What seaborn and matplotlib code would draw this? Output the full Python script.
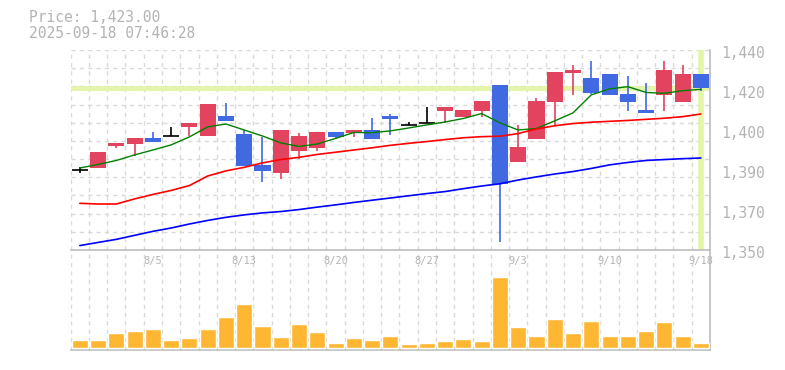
import numpy as np
import pandas as pd
import matplotlib
matplotlib.use("Agg")
import matplotlib.pyplot as plt
import matplotlib.transforms as mtransforms
import seaborn as sns

# ── data ──────────────────────────────────────────────────────
dates = ["7/30", "7/31", "8/1", "8/4", "8/5", "8/6", "8/7", "8/8", "8/12", "8/13",
         "8/14", "8/15", "8/18", "8/19", "8/20", "8/21", "8/22", "8/25", "8/26", "8/27",
         "8/28", "8/29", "9/1", "9/2", "9/3", "9/4", "9/5", "9/8", "9/9", "9/10",
         "9/11", "9/12", "9/16", "9/17", "9/18"]

opens = [1385.9, 1387.0, 1396.8, 1397.8, 1400.4, 1401.2, 1405.4, 1401.3, 1410.3, 1402.2,
         1388.3, 1384.8, 1394.7, 1395.9, 1403.1, 1402.5, 1404.0, 1410.4, 1406.3, 1407.2,
         1412.6, 1409.9, 1412.6, 1424.3, 1389.7, 1400.0, 1416.6, 1429.8, 1427.4, 1429.2,
         1420.2, 1413.0, 1419.8, 1416.7, 1429.2]
highs = [1387.2, 1394.1, 1398.0, 1400.4, 1403.1, 1405.2, 1407.2, 1415.7, 1416.2, 1404.0,
         1400.7, 1404.0, 1402.5, 1403.1, 1403.1, 1404.0, 1409.5, 1411.3, 1407.6, 1414.5,
         1414.4, 1413.0, 1417.1, 1424.3, 1406.1, 1418.3, 1430.1, 1433.3, 1435.1, 1429.2,
         1428.3, 1425.2, 1435.1, 1433.3, 1429.2]
lows = [1384.8, 1387.0, 1396.1, 1392.3, 1398.7, 1401.2, 1401.3, 1401.3, 1408.1, 1387.8,
        1380.7, 1382.1, 1391.1, 1394.7, 1399.9, 1401.0, 1400.1, 1401.9, 1406.3, 1407.2,
        1407.2, 1409.9, 1409.9, 1353.7, 1389.7, 1400.0, 1405.9, 1419.8, 1420.0, 1419.8,
        1412.7, 1411.8, 1412.7, 1416.7, 1421.7]
closes = [1385.9, 1394.1, 1398.0, 1400.4, 1398.7, 1401.2, 1407.2, 1415.7, 1408.1, 1387.8,
          1385.6, 1404.0, 1401.3, 1403.1, 1401.0, 1404.0, 1400.1, 1409.1, 1406.3, 1407.2,
          1414.4, 1413.0, 1417.1, 1379.8, 1396.4, 1417.1, 1430.1, 1431.0, 1420.7, 1419.8,
          1416.7, 1411.8, 1431.0, 1429.3, 1423.0]

ma_short = [1386.9, 1388.5, 1390.3, 1392.8, 1395.0, 1397.3, 1400.9, 1405.4, 1406.7, 1404.0,
            1401.3, 1398.2, 1396.6, 1397.7, 1400.2, 1402.9, 1402.8, 1403.6, 1404.9, 1406.3,
            1407.6, 1409.2, 1411.4, 1407.2, 1404.0, 1404.7, 1408.1, 1411.7, 1419.8, 1422.5,
            1423.5, 1420.9, 1420.5, 1421.7, 1422.3]
ma_mid = [1371.0, 1370.7, 1370.7, 1373.0, 1375.0, 1376.8, 1379.0, 1383.3, 1385.6, 1387.2,
          1389.2, 1390.7, 1391.7, 1393.0, 1394.0, 1395.0, 1396.0, 1397.1, 1398.0, 1398.8,
          1399.7, 1400.5, 1401.0, 1401.2, 1402.4, 1404.5, 1405.9, 1406.9, 1407.5, 1407.9,
          1408.3, 1408.8, 1409.3, 1410.0, 1411.2]
ma_long = [1352.0, 1353.4, 1354.8, 1356.6, 1358.4, 1359.9, 1361.7, 1363.3, 1364.7, 1365.8,
           1366.7, 1367.3, 1368.2, 1369.3, 1370.3, 1371.4, 1372.4, 1373.4, 1374.4, 1375.4,
           1376.3, 1377.6, 1378.8, 1379.8, 1381.5, 1382.9, 1384.2, 1385.3, 1386.7, 1388.3,
           1389.4, 1390.3, 1390.7, 1391.1, 1391.4]

volume = [8000, 8000, 15000, 17000, 19000, 8000, 10000, 19000, 31000, 44000,
          22000, 11000, 24000, 16000, 5000, 10000, 8000, 12000, 4000, 5000,
          7000, 9000, 7000, 71000, 21000, 12000, 29000, 15000, 27000, 12000,
          12000, 17000, 26000, 12000, 5000]

last_price = 1423.00
y_ticks = [1350, 1368, 1386, 1404, 1422, 1440]
y_ticklabels = ["1,350", "1,370", "1,390", "1,400", "1,420", "1,440"]

# ── style ─────────────────────────────────────────────────────
sns.set_theme(style="white")
plt.rcParams['font.family'] = ['DejaVu Sans Mono']

UP = "#e2435f"
DOWN = "#4169e1"
HILITE = "#e4f4a8"
GRID = "#d9d9d9"
SPINE = "#bdbdbd"
TXT = "#b3b3b3"

df = pd.DataFrame({"i": np.arange(len(dates)), "date": dates, "open": opens, "high": highs,
                   "low": lows, "close": closes, "ma5": ma_short, "ma25": ma_mid,
                   "ma75": ma_long, "vol": volume})

fig = plt.figure(figsize=(7.85, 3.70), dpi=100)
x0, x1 = 70.7 / 785, 710 / 785
ax = fig.add_axes([x0, 1 - 250 / 370, x1 - x0, 200 / 370])
axv = fig.add_axes([x0, 1 - 350 / 370, x1 - x0, 100 / 370])

# ── price panel ───────────────────────────────────────────────
n = len(df)
ax.set_xlim(-0.5, n - 0.5)
ax.set_ylim(1350, 1440)

ax.axhline(last_price, color=HILITE, lw=3.5, zorder=1)
ax.axvline(n - 1, color=HILITE, lw=4, zorder=1)

body_w = 0.88
for _, r in df.iterrows():
    if r["close"] > r["open"]:
        col = UP
    elif r["close"] < r["open"]:
        col = DOWN
    else:
        col = "black"
    ax.vlines(r["i"], r["low"], r["high"], color=col, lw=1.2, zorder=3)
    if col == "black":
        ax.hlines(r["open"], r["i"] - body_w / 2, r["i"] + body_w / 2, color=col, lw=1.2, zorder=3)
    else:
        lo = min(r["open"], r["close"])
        ax.bar(r["i"], abs(r["close"] - r["open"]), bottom=lo, width=body_w,
               color=col, linewidth=0, zorder=3)

sns.lineplot(data=df, x="i", y="ma5", color="green", lw=1.0, ax=ax, zorder=4)
sns.lineplot(data=df, x="i", y="ma25", color="red", lw=1.2, ax=ax, zorder=4)
sns.lineplot(data=df, x="i", y="ma75", color="blue", lw=1.2, ax=ax, zorder=4)

lab_idx = list(range(4, n, 5))
ax.set_xticks(lab_idx)
ax.set_xticklabels([dates[k] for k in lab_idx])
ax.set_xticks(np.arange(-0.5, n, 1.0), minor=True)
ax.set_yticks([])
ax.set_yticks(np.linspace(1350, 1440, 12), minor=True)
ax.set_xlabel("")
ax.set_ylabel("")
ax.tick_params(axis="both", which="both", length=0)
ax.tick_params(axis="y", labelleft=False, labelright=False)
ax.tick_params(axis="x", labelsize=7.5, labelcolor=TXT, pad=4)
ax.grid(which="minor", color=GRID, lw=1, ls=(0, (3, 3)))
ax.grid(which="major", visible=False)
for s in ["top", "left"]:
    ax.spines[s].set_visible(False)
for s in ["bottom", "right"]:
    ax.spines[s].set_color(SPINE)
    ax.spines[s].set_linewidth(1.2)

# right-hand price labels (slightly below their grid position, as in the source)
lab_tr = ax.get_yaxis_transform() + mtransforms.ScaledTranslation(0, -2.5 / 72, fig.dpi_scale_trans)
lab_x = (721 - 70.7) / (710 - 70.7)
for v, s in zip(y_ticks, y_ticklabels):
    ax.text(lab_x, v, s, transform=lab_tr, color=TXT, fontsize=10.5,
            ha="left", va="center", clip_on=False)

# ── volume panel ──────────────────────────────────────────────
sns.barplot(data=df, x="i", y="vol", color="#ffb733", saturation=1, width=0.88,
            ax=axv, zorder=3)
axv.set_xlim(-0.5, n - 0.5)
axv.set_ylim(-2000, 98000)
axv.set_xticks(np.arange(-0.5, n, 1.0), minor=True)
axv.set_xticks([])
axv.set_yticks([])
axv.set_xlabel("")
axv.set_ylabel("")
axv.tick_params(which="both", length=0)
axv.grid(which="minor", axis="x", color=GRID, lw=1, ls=(0, (3, 3)))
axv.patch.set_alpha(0)
for s in ["top", "left"]:
    axv.spines[s].set_visible(False)
for s in ["bottom", "right"]:
    axv.spines[s].set_color(SPINE)
    axv.spines[s].set_linewidth(1.2)
ax.set_zorder(2)
ax.patch.set_alpha(0)

# ── header text ───────────────────────────────────────────────
fig.text(29 / 785, 1 - 18 / 370, f"Price: {last_price:,.2f}", color=TXT, fontsize=10.5, va="center")
fig.text(29 / 785, 1 - 33 / 370, "2025-09-18 07:46:28", color=TXT, fontsize=10.5, va="center")

fig.savefig("out.png", dpi=100)
